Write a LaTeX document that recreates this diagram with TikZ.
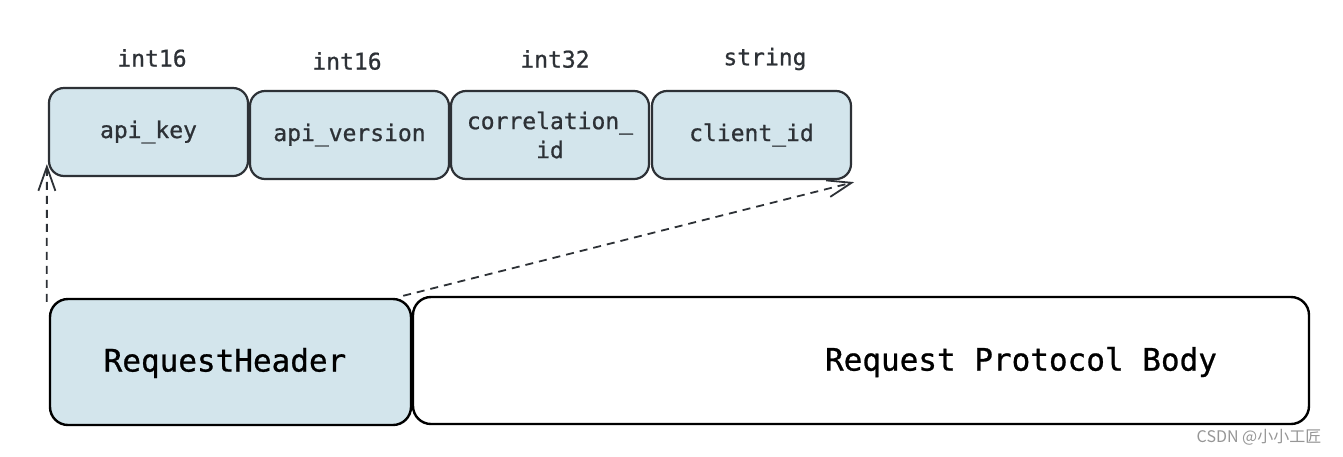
\documentclass[tikz,border=0pt]{standalone}
\usepackage{fontspec}
\setmonofont{DejaVu Sans Mono}[FakeBold=0.8]
\newfontfamily\cjk{Noto Sans CJK SC}
\usetikzlibrary{arrows.meta}
\definecolor{boxfill}{RGB}{211,229,236}
\definecolor{inkdark}{RGB}{45,49,54}
\definecolor{wmgray}{RGB}{150,150,150}
\begin{document}
\begin{tikzpicture}[x=1pt,y=-1pt,
  field/.style={draw=inkdark, line width=2.2pt, fill=boxfill, rounded corners=15pt,
    minimum width=199pt, minimum height=88pt, inner sep=0pt, align=center,
    text=inkdark, font=\ttfamily\fontsize{23}{29}\selectfont},
  typelabel/.style={text=inkdark, inner sep=0pt, font=\ttfamily\fontsize{23}{29}\selectfont},
  bigbox/.style={draw=black, line width=2.4pt, rounded corners=18pt, inner sep=0pt},
  bigtext/.style={text=black, inner sep=0pt, font=\ttfamily\fontsize{31}{36}\selectfont},
  link/.style={draw=inkdark, line width=1.8pt, dash pattern=on 8pt off 6pt,
    -{Straight Barb[length=24pt,width=17pt,line width=1.8pt]}}
]
\useasboundingbox (0,0) rectangle (1343,456);
\fill[white] (0,0) rectangle (1343,456);

% top fields
\node[field] (apikey) at (148.5,132) {api\_key};
\node[field] (apiver) at (349.5,135) {api\_version};
\node[field, minimum width=198pt] (corr) at (550,135) {correlation\_\\id};
\node[field] (client) at (751.5,135) {client\_id};

% type labels
\node[typelabel] (t1) at (152,58) {int16};
\node[typelabel] (t2) at (347,61) {int16};
\node[typelabel] (t3) at (555,59) {int32};
\node[typelabel] (t4) at (765,59) {string};

% bottom boxes
\node[bigbox, fill=boxfill, minimum width=361pt, minimum height=126pt] (rh) at (230.5,362) {};
\node[bigtext] (rhtext) at (225,363) {RequestHeader};
\node[bigbox, fill=white, minimum width=896pt, minimum height=127pt] (body) at (861,360.5) {};
\node[bigtext] (bodytext) at (1021,362) {Request Protocol Body};

% connectors
\draw[link] ([xshift=-2pt,yshift=-4pt]rh.north west) -- ([xshift=-1pt,yshift=13pt]apikey.south west);
\draw[link] ([xshift=-9pt,yshift=2pt]rh.north east) -- ([xshift=2pt,yshift=-2pt]client.south east);

% watermark
\node[text=wmgray, inner sep=0pt, font=\cjk\fontsize{16}{19}\selectfont] (wm) at (1259,437) {CSDN @小小工匠};
\end{tikzpicture}
\end{document}
